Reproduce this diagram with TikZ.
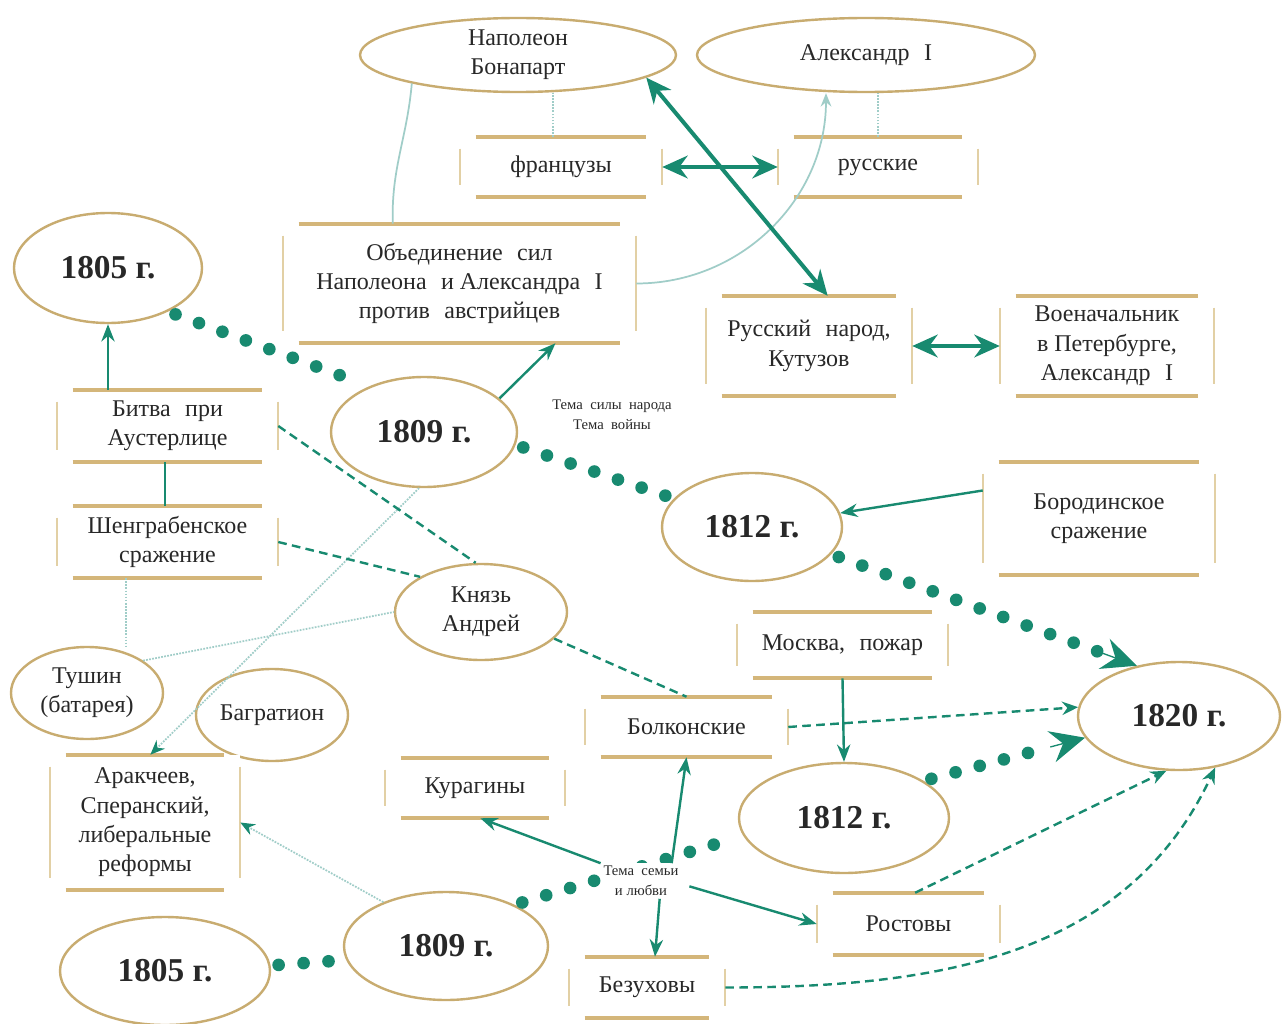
\documentclass[tikz,border=0pt]{standalone}
\usepackage{fontspec}
\setmainfont{Liberation Serif}
\usetikzlibrary{shapes.geometric,arrows.meta,calc}
\pgfdeclarelayer{bg}
\pgfsetlayers{bg,main}
\definecolor{tealc}{RGB}{24,138,112}
\definecolor{faint}{RGB}{160,205,200}
\definecolor{tanc}{RGB}{200,172,112}
\definecolor{tanbar}{RGB}{212,182,122}
\definecolor{tanside}{RGB}{226,208,165}
\definecolor{ink}{RGB}{40,40,40}
\newcommand\gp{\hspace{0.6em}}
\newcommand\gs{\hspace{0.5em}}
\tikzset{
  ell/.style={ellipse, draw=tanc, line width=1.8pt, fill=white, inner sep=-6pt, text=ink, align=center, font=\fontsize{18}{22}\selectfont},
  yr/.style={ell, font=\fontsize{25}{30}\selectfont\bfseries},
  bx/.style={rectangle, inner sep=0pt, fill=white, text=ink, align=center, font=\fontsize{18}{22}\selectfont},
  tbar/.style={draw=tanbar, line width=3pt},
  tside/.style={draw=tanside, line width=1.5pt},
  lab/.style={inner sep=2pt, text=ink, align=center, font=\fontsize{11}{15}\selectfont},
  arr/.style={draw=tealc, line width=1.8pt, -{Stealth[length=13pt,width=10pt]}},
  darr/.style={draw=tealc, line width=3pt, {Stealth[length=19pt,width=17pt]}-{Stealth[length=19pt,width=17pt]}},
  dsh/.style={draw=tealc, line width=1.8pt, dash pattern=on 6.5pt off 4pt},
  dsha/.style={dsh, -{Stealth[length=12pt,width=10pt]}},
  bigdots/.style={draw=tealc, line width=9.5pt, line cap=round, dash pattern=on 0pt off 18.75pt, shorten <=6pt, shorten >=6pt},
  bigtip/.style={draw=tealc, fill=tealc, line width=1pt, -{Stealth[length=26pt,width=24pt,inset=9pt]}},
  fl/.style={draw=faint, line width=1.3pt},
  fld/.style={fl, densely dotted},
}
\newcommand\tbx[6]{%
  \node[bx, minimum width={(#4-#2)*0.75pt}, minimum height={(#5-#3)*0.75pt}] (#1) at ({(#2+#4)/2},{(#3+#5)/2}) {#6};
  \draw[tbar] ([xshift=12pt]#1.north west) -- ([xshift=-12pt]#1.north east)
              ([xshift=12pt]#1.south west) -- ([xshift=-12pt]#1.south east);
  \draw[tside] ([yshift=-9pt]#1.north west) -- ([yshift=9pt]#1.south west)
               ([yshift=-9pt]#1.north east) -- ([yshift=9pt]#1.south east);
}
\begin{document}
\begin{tikzpicture}[x=0.75pt,y=-0.75pt]
\useasboundingbox[fill=white] (0,0) rectangle (1282,1024);

% ---------- ellipses ----------
\node[ell, minimum width=237pt, minimum height=55.5pt] (nap) at (518,55) {Наполеон\\Бонапарт};
\node[ell, minimum width=253.5pt, minimum height=55.5pt] (alex) at (866,55) {Александр\gp I};
\node[yr, minimum width=141pt, minimum height=82.5pt] (y1805a) at (108,268) {1805 г.};
\node[yr, minimum width=139.5pt, minimum height=82.5pt] (y1809a) at (424,432) {1809 г.};
\node[yr, minimum width=135pt, minimum height=81pt] (y1812a) at (752,527) {1812 г.};
\node[ell, minimum width=129pt, minimum height=72pt] (andr) at (481,612) {Князь\\Андрей};
\node[ell, minimum width=114pt, minimum height=69pt] (tush) at (87,693) {Тушин\\(батарея)};
\node[ell, minimum width=114pt, minimum height=69pt] (bagr) at (272,715) {Багратион};
\node[yr, minimum width=151.5pt, minimum height=81pt] (y1820) at (1179,716) {1820 г.};
\node[yr, minimum width=157.5pt, minimum height=82.5pt] (y1812b) at (844,818) {1812 г.};
\node[yr, minimum width=153pt, minimum height=81pt] (y1809b) at (446,946) {1809 г.};
\node[yr, minimum width=157.5pt, minimum height=81pt] (y1805b) at (165,971) {1805 г.};

% ---------- boxes ----------
\tbx{fr}{460}{137}{662}{197}{французы}
\tbx{ru}{778}{137}{978}{197}{русские}
\tbx{obj}{283}{224}{636}{343}{Объединение\gp сил\\Наполеона\gp и Александра\gp I\\против\gp австрийцев}
\tbx{rnar}{706}{296}{912}{396}{Русский\gp народ,\\Кутузов}
\tbx{voen}{1000}{296}{1214}{396}{Военачальник\\в Петербурге,\\Александр\gp I}
\tbx{bitva}{57}{390}{278}{462}{Битва\gp при\\Аустерлице}
\tbx{sheng}{57}{506}{278}{578}{Шенграбенское\\сражение}
\tbx{borod}{983}{462}{1215}{575}{Бородинское\\сражение}
\tbx{mosk}{737}{612}{948}{678}{Москва,\gp пожар}
\tbx{bolk}{585}{697}{788}{757}{Болконские}
\tbx{kur}{385}{758}{565}{818}{Курагины}
\tbx{arak}{50}{755}{240}{890}{Аракчеев,\\Сперанский,\\либеральные\\реформы}
\tbx{rost}{817}{893}{1000}{955}{Ростовы}
\tbx{bez}{569}{957}{725}{1018}{Безуховы}

\node[lab] (tsila) at (612,415) {Тема\gs силы\gs народа\\Тема\gs войны};

% ---------- background faint line ----------
\begin{pgfonlayer}{bg}
\draw[fl] ([xshift=28pt]bitva.south) -- (bagr.115);
\end{pgfonlayer}

% ---------- big dotted time line ----------
\draw[bigdots] (y1805a.-36) -- (y1809a.140);
\draw[bigdots] (y1809a.-8) -- (y1812a.160);
\draw[bigdots, shorten >=28pt] (y1812a.-19) -- (y1820.130);
\draw[bigtip] ($(y1820.130)!27pt!(y1812a.-19)$) -- (y1820.130);
\draw[bigdots] (y1805b.3) -- (y1809b.188);
\draw[bigdots] (y1809b.31) -- (y1812b.190);
\draw[bigdots, shorten >=28pt] (y1812b.25) -- (y1820.193);
\draw[bigtip] ($(y1820.193)!27pt!(y1812b.25)$) -- (y1820.193);

\node[lab, fill=white] (tsem) at (641,881) {Тема\gs семьи\\и любви};

% ---------- faint connectors ----------
\draw[fld] ([xshift=-6pt]fr.north) -- ([xshift=-6pt]fr.north |- nap.south);
\draw[fld] (ru.north) -- (ru.north |- alex.south);
\draw[fl] (nap.195) to[out=-95,in=92] ([xshift=-50pt]obj.north);
\draw[fl, -{Stealth[length=10pt,width=8pt]}] (obj.east) to[out=0,in=-90] ([xshift=-30pt]alex.south);
\draw[fld] ([xshift=-31pt]sheng.south) -- ([xshift=-31pt]sheng.south |- tush.north);
\draw[fld] (tush.30) -- (andr.west);
\draw[fld, -{Stealth[length=11pt,width=9pt,color=tealc]}] (y1809a.-95) -- ([xshift=4pt]arak.north);
\draw[fld, -{Stealth[length=11pt,width=9pt,color=tealc]}] (y1809b.145) -- (arak.east);

% ---------- teal connectors ----------
\draw[darr] (nap.-10) -- ([xshift=14pt]rnar.north);
\draw[darr] (fr) -- (ru);
\draw[darr] (rnar) -- (voen);
\draw[arr] (bitva.north -| y1805a) -- (y1805a);
\draw[draw=tealc, line width=1.8pt] ([xshift=-2pt]bitva.south) -- ([xshift=-2pt]sheng.north);
\draw[arr] (y1809a.24) -- ([xshift=72pt]obj.south);
\draw[arr] ([yshift=21pt]borod.west) -- (y1812a);
\draw[dsh] (bitva.east) -- ([xshift=-4pt]andr.north);
\draw[dsh] (sheng.east) -- (andr.150);
\draw[dsh] (andr.-20) -- (bolk.north);
\draw[arr] (mosk.south) -- (y1812b.north);
\draw[dsha] (bolk.east) -- (y1820.175);
\draw[arr] (tsem.north west) -- ([xshift=4pt]kur.south);
\draw[arr] ([xshift=23pt]tsem.north) -- (bolk.south);
\draw[arr] ([xshift=14pt]tsem.south) -- ([xshift=6pt]bez.north);
\draw[arr] ([xshift=6pt,yshift=-4pt]tsem.east) -- (rost.west);
\draw[dsha] ([xshift=5pt]rost.north) -- (y1820.257);
\draw[dsha] (bez.east) to[out=0,in=-115] (y1820.-55);
\end{tikzpicture}
\end{document}
